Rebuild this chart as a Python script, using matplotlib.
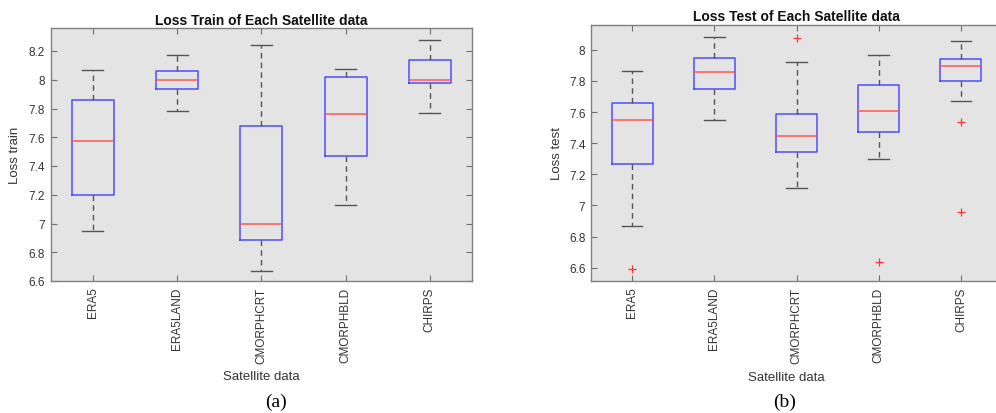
import matplotlib.pyplot as plt

plt.rcParams['font.family'] = ['Liberation Sans', 'DejaVu Sans']

sources = ['ERA5', 'ERA5LAND', 'CMORPHCRT', 'CMORPHBLD', 'CHIRPS']

# Loss train box statistics
train_low = [6.95, 7.78, 6.67, 7.13, 7.77]
train_q1 = [7.20, 7.935, 6.885, 7.47, 7.975]
train_med = [7.575, 8.00, 6.995, 7.76, 8.00]
train_q3 = [7.86, 8.06, 7.675, 8.02, 8.14]
train_high = [8.07, 8.175, 8.245, 8.075, 8.275]
train_out = [[], [], [], [], []]

# Loss test box statistics
test_low = [6.87, 7.55, 7.11, 7.30, 7.67]
test_q1 = [7.265, 7.75, 7.345, 7.47, 7.80]
test_med = [7.55, 7.855, 7.445, 7.61, 7.895]
test_q3 = [7.66, 7.945, 7.585, 7.775, 7.94]
test_high = [7.865, 8.085, 7.925, 7.965, 8.06]
test_out = [[6.59], [], [8.075], [6.635], [7.535, 6.955]]


def make_stats(low, q1, med, q3, high, out):
    return [dict(whislo=a, q1=b, med=c, q3=d, whishi=e, fliers=f, label=n)
            for a, b, c, d, e, f, n in zip(low, q1, med, q3, high, out, sources)]


W, H = 996, 414
fig = plt.figure(figsize=(W / 100, H / 100), dpi=100)
fig.patch.set_facecolor('white')


def px_axes(left, top, right, bottom):
    return fig.add_axes([left / W, 1 - bottom / H, (right - left) / W, (bottom - top) / H])


ax1 = px_axes(50.7, 29, 472, 282)
ax2 = px_axes(591, 26, 1002, 282)

panels = [
    (ax1, make_stats(train_low, train_q1, train_med, train_q3, train_high, train_out),
     'Loss Train of Each Satellite data', 'Loss train', (6.6, 8.36),
     [6.6, 6.8, 7, 7.2, 7.4, 7.6, 7.8, 8, 8.2], 1.033, -0.085, 0.5),
    (ax2, make_stats(test_low, test_q1, test_med, test_q3, test_high, test_out),
     'Loss Test of Each Satellite data', 'Loss test', (6.514, 8.16),
     [6.6, 6.8, 7, 7.2, 7.4, 7.6, 7.8, 8], 1.036, -0.083, 0.474),
]

for ax, stats, title, ylab, ylim, yticks, ty, ylx, xlx in panels:
    ax.set_facecolor('#e4e4e4')
    ax.bxp(stats, positions=range(1, 6), widths=0.5, capwidths=0.25,
           showfliers=True,
           boxprops=dict(color='#4d4dff', linewidth=1.1),
           medianprops=dict(color='#ff5555', linewidth=1.1),
           whiskerprops=dict(color='#555555', linewidth=1.0, linestyle=(0, (4, 3))),
           capprops=dict(color='#555555', linewidth=1.0),
           flierprops=dict(marker='+', markeredgecolor='#ff3333', markersize=6,
                           markeredgewidth=0.9, linestyle='none'))
    ax.set_xlim(0.5, 5.5)
    ax.set_ylim(*ylim)
    ax.set_yticks(yticks)
    ax.set_yticklabels([f'{v:g}' for v in yticks])
    ax.set_xticks(range(1, 6))
    ax.set_xticklabels(sources, rotation=90)
    ax.tick_params(direction='in', length=4, width=0.8, color='#707070',
                   labelcolor='#333333', labelsize=8.5, top=True, right=True, pad=4)
    for s in ax.spines.values():
        s.set_color('#808080')
        s.set_linewidth(1.0)
    ax.set_title(title, fontsize=10, fontweight='bold', y=ty, pad=0,
                 va='center', color='#111111')
    ax.set_ylabel(ylab, fontsize=9.5, color='#333333')
    ax.yaxis.set_label_coords(ylx, 0.5)
    ax.yaxis.label.set_va('center')
    ax.set_xlabel('Satellite data', fontsize=9.5, color='#333333')
    ax.xaxis.set_label_coords(xlx, -0.375)
    ax.xaxis.label.set_va('center')

fig.text(276 / W, 1 - 402 / H, '(a)', ha='center', va='center',
         family='Liberation Serif', fontsize=14)
fig.text(785 / W, 1 - 402 / H, '(b)', ha='center', va='center',
         family='Liberation Serif', fontsize=14)

fig.savefig('out.png', dpi=100)
